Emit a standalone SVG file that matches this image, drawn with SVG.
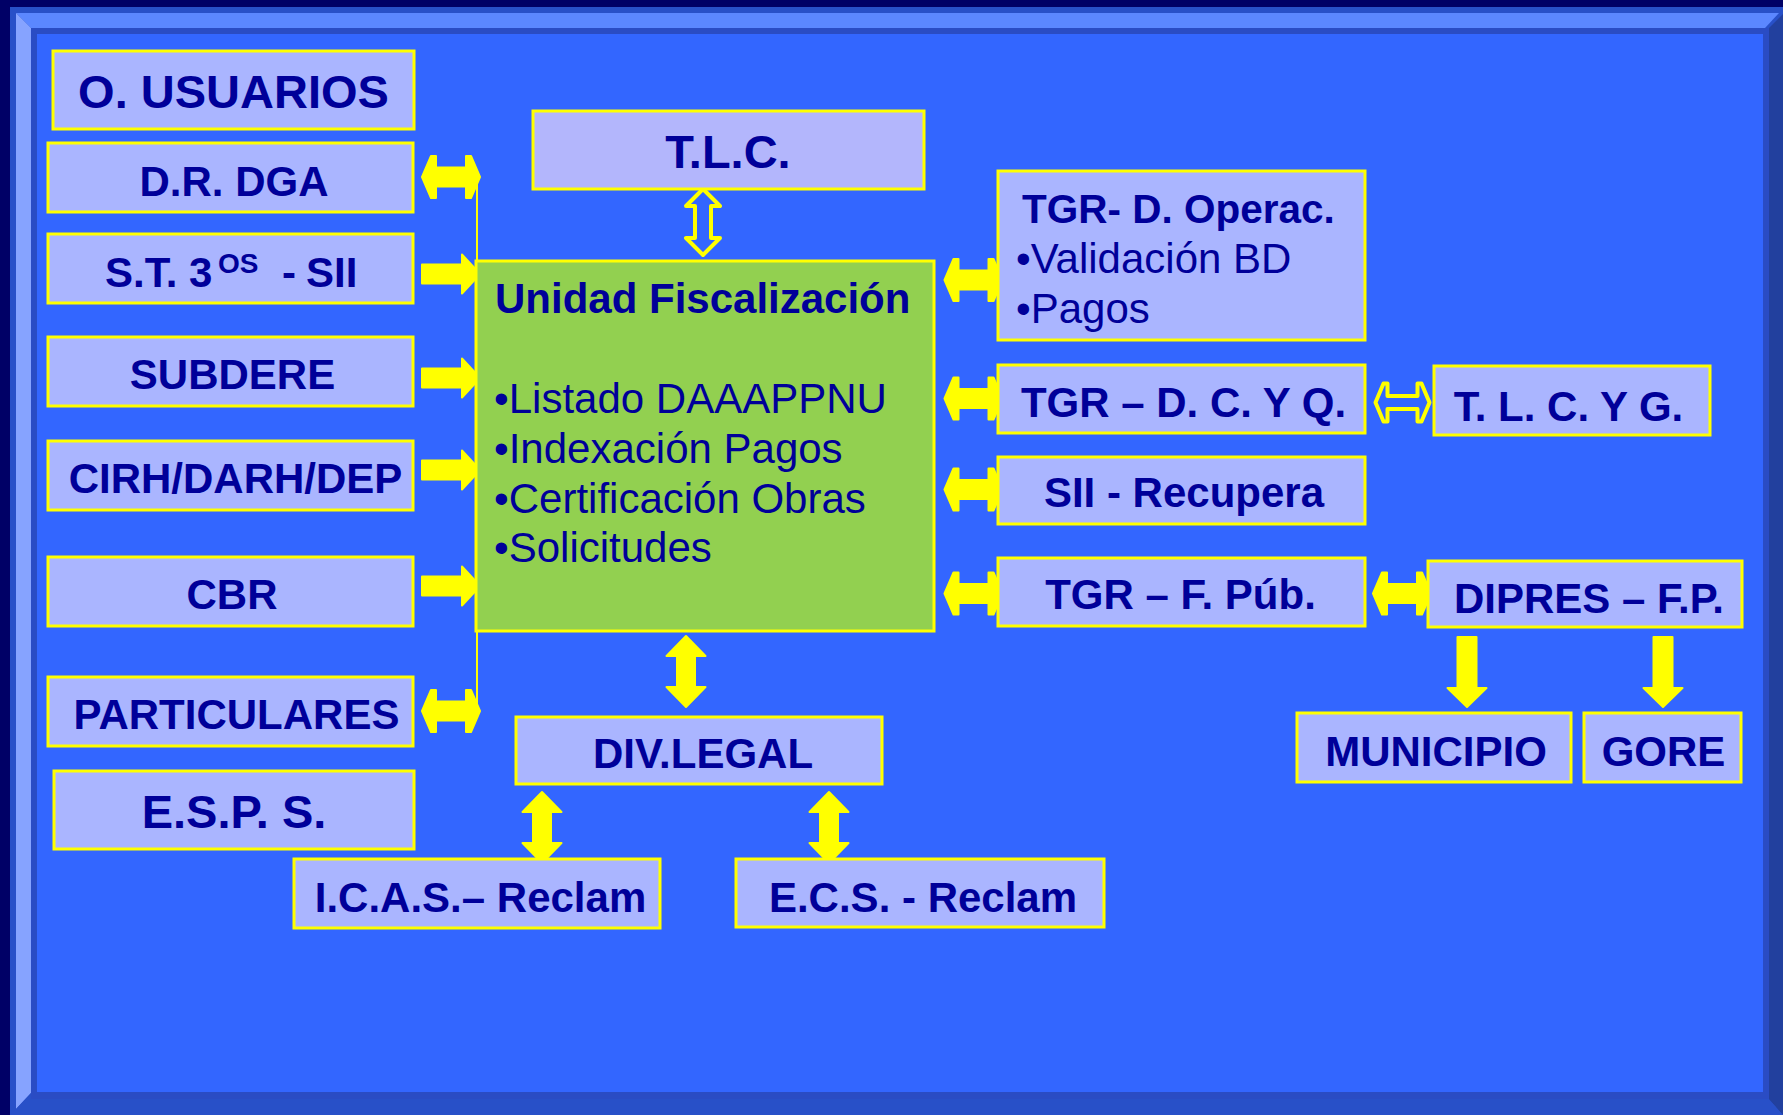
<svg xmlns="http://www.w3.org/2000/svg" xmlns:xlink="http://www.w3.org/1999/xlink" width="1783" height="1115" viewBox="0 0 1783 1115">
<style>
.box{fill:#AAB5FF;stroke:#FFFF00;stroke-width:3}
.tlc{fill:#B3B6FC;stroke:#FFFF00;stroke-width:3}
.green{fill:#92D050;stroke:#FFFF00;stroke-width:3}
.t{font-family:"Liberation Sans",Arial,sans-serif;font-weight:bold;font-size:42px;fill:#000099;text-anchor:middle}
.tb{font-family:"Liberation Sans",Arial,sans-serif;font-weight:bold;font-size:42px;fill:#000099}
.tr{font-family:"Liberation Sans",Arial,sans-serif;font-weight:normal;font-size:42px;fill:#000099}
.big{font-size:47px}
.ya{fill:#FFFF00;stroke:#FFFF00;stroke-width:2;stroke-linejoin:round}
.yh{fill:#3366FF;stroke:#FFFF00;stroke-width:4;stroke-linejoin:round}
.ln{stroke:#FFFF00;stroke-width:2;fill:none}
</style>
<defs>
<path id="dbl" d="M-29,0 L-20,-21 L-15,-21 L-15,-9.5 L15,-9.5 L15,-21 L20,-21 L29,0 L20,21 L15,21 L15,9.5 L-15,9.5 L-15,21 L-20,21 Z"/>
<path id="dblh" d="M-27,0 L-19,-19 L-15,-19 L-15,-6.5 L15,-6.5 L15,-19 L19,-19 L27,0 L19,19 L15,19 L15,6.5 L-15,6.5 L-15,19 L-19,19 Z"/>
<path id="rarr" d="M-29,-9.5 L11,-9.5 L11,-19.5 L29,0 L11,19.5 L11,9.5 L-29,9.5 Z"/>
<path id="vdbl" d="M0,-35.5 L19.5,-15.5 L9,-15.5 L9,15.5 L19.5,15.5 L0,35.5 L-19.5,15.5 L-9,15.5 L-9,-15.5 L-19.5,-15.5 Z"/>
<path id="vdblh" d="M0,-33 L17,-16 L8,-16 L8,16 L17,16 L0,33 L-17,16 L-8,16 L-8,-16 L-17,-16 Z"/>
<path id="darr" d="M-9.5,0 L9.5,0 L9.5,51 L19.5,51 L0,70 L-19.5,51 L-9.5,51 Z"/>
</defs>

<g id="frame">
<rect x="0" y="0" width="1783" height="1115" fill="#000066"/>
<rect x="10" y="7" width="1773" height="1108" fill="#2850C8"/>
<polygon points="16,13 1779,13 1765,28 31,28" fill="#5B87FF"/>
<polygon points="16,13 31,28 31,1093 16,1109" fill="#86A3FF"/>
<polygon points="1767,30 1783,14 1783,1115 1767,1097" fill="#22409E"/>
<polygon points="16,1109 31,1093 1767,1097 1783,1115 10,1115" fill="#2850C8"/>
<rect x="31" y="28" width="1738" height="1071" fill="#2A4CC4"/>
<rect x="37" y="34" width="1726" height="1058" fill="#3366FF"/>
</g>

<g id="connectors">
<line class="ln" x1="477" y1="177" x2="477" y2="711"/>
<use xlink:href="#dbl" class="ya" transform="translate(451,177)"/>
<use xlink:href="#rarr" class="ya" transform="translate(451,274)"/>
<use xlink:href="#rarr" class="ya" transform="translate(451,378)"/>
<use xlink:href="#rarr" class="ya" transform="translate(451,470)"/>
<use xlink:href="#rarr" class="ya" transform="translate(451,586)"/>
<use xlink:href="#dbl" class="ya" transform="translate(451,711)"/>
<use xlink:href="#vdblh" class="yh" transform="translate(703,222)"/>
<use xlink:href="#dbl" class="ya" transform="translate(973.5,280)"/>
<use xlink:href="#dbl" class="ya" transform="translate(973.5,398.5)"/>
<use xlink:href="#dbl" class="ya" transform="translate(973.5,489.5)"/>
<use xlink:href="#dbl" class="ya" transform="translate(973.5,593.5)"/>
<use xlink:href="#dblh" class="yh" transform="translate(1402.5,402.5)"/>
<use xlink:href="#dbl" class="ya" transform="translate(1402,593.5)"/>
<use xlink:href="#darr" class="ya" transform="translate(1467,637)"/>
<use xlink:href="#darr" class="ya" transform="translate(1663,637)"/>
<use xlink:href="#vdbl" class="ya" transform="translate(686,671.5)"/>
<use xlink:href="#vdbl" class="ya" transform="translate(542,827.5)"/>
<use xlink:href="#vdbl" class="ya" transform="translate(829,827.5)"/>
</g>

<g id="n-ousuarios"><rect class="box" x="53" y="51" width="361" height="78"/><text class="t big" x="233.5" y="108">O. USUARIOS</text></g>
<g id="n-drdga"><rect class="box" x="48" y="143" width="365" height="69"/><text class="t" x="234" y="196">D.R. DGA</text></g>
<g id="n-st3os"><rect class="box" x="48" y="234" width="365" height="69"/><text class="tb" y="287"><tspan x="105">S.T. 3</tspan><tspan x="218" y="273" style="font-size:28px">OS</tspan><tspan x="282" y="287">-</tspan><tspan x="306" y="287">SII</tspan></text></g>
<g id="n-subdere"><rect class="box" x="48" y="337" width="365" height="69"/><text class="t" x="232.5" y="389">SUBDERE</text></g>
<g id="n-cirh"><rect class="box" x="48" y="441" width="365" height="69"/><text class="t" x="235.5" y="493">CIRH/DARH/DEP</text></g>
<g id="n-cbr"><rect class="box" x="48" y="557" width="365" height="69"/><text class="t" x="232" y="609">CBR</text></g>
<g id="n-particulares"><rect class="box" x="48" y="677" width="365" height="69"/><text class="t" x="236.5" y="729">PARTICULARES</text></g>
<g id="n-esps"><rect class="box" x="54" y="771" width="360" height="78"/><text class="t big" x="234" y="828">E.S.P. S.</text></g>
<g id="n-tlc"><rect class="tlc" x="533" y="111" width="391" height="78"/><text class="t big" x="728" y="168">T.L.C.</text></g>
<g id="n-unidad"><rect class="green" x="476" y="261" width="458" height="370"/>
<text class="tb" x="495" y="313">Unidad Fiscalización</text>
<text class="tr" x="494" y="413">•Listado DAAAPPNU</text>
<text class="tr" x="494" y="463">•Indexación Pagos</text>
<text class="tr" x="494" y="513">•Certificación Obras</text>
<text class="tr" x="494" y="562">•Solicitudes</text></g>
<g id="n-divlegal"><rect class="box" x="516" y="717" width="366" height="67"/><text class="t" x="703" y="768">DIV.LEGAL</text></g>
<g id="n-icas"><rect class="box" x="294" y="859" width="366" height="69"/><text class="t" x="480.5" y="912">I.C.A.S.– Reclam</text></g>
<g id="n-ecs"><rect class="box" x="736" y="859" width="368" height="68"/><text class="t" x="923" y="912">E.C.S. - Reclam</text></g>
<g id="n-tgrop"><rect class="box" x="998" y="171" width="367" height="169"/>
<text class="tb" x="1022" y="223" style="font-size:40.5px">TGR- D. Operac.</text>
<text class="tr" x="1016" y="273">•Validación BD</text>
<text class="tr" x="1016" y="323">•Pagos</text></g>
<g id="n-tgrdcyq"><rect class="box" x="998" y="365" width="367" height="68"/><text class="t" x="1183.5" y="417">TGR – D. C. Y Q.</text></g>
<g id="n-sii"><rect class="box" x="998" y="457" width="367" height="67"/><text class="t" x="1184" y="507">SII - Recupera</text></g>
<g id="n-tgrfpub"><rect class="box" x="998" y="558" width="367" height="68"/><text class="t" x="1180.5" y="609">TGR – F. Púb.</text></g>
<g id="n-tlcyg"><rect class="box" x="1434" y="366" width="276" height="69"/><text class="t" x="1568.5" y="421">T. L. C. Y G.</text></g>
<g id="n-dipres"><rect class="box" x="1428" y="561" width="314" height="66"/><text class="t" x="1589" y="613">DIPRES – F.P.</text></g>
<g id="n-municipio"><rect class="box" x="1297" y="713" width="274" height="69"/><text class="t" x="1436" y="766">MUNICIPIO</text></g>
<g id="n-gore"><rect class="box" x="1584" y="713" width="157" height="69"/><text class="t" x="1663.5" y="766">GORE</text></g>
</svg>
